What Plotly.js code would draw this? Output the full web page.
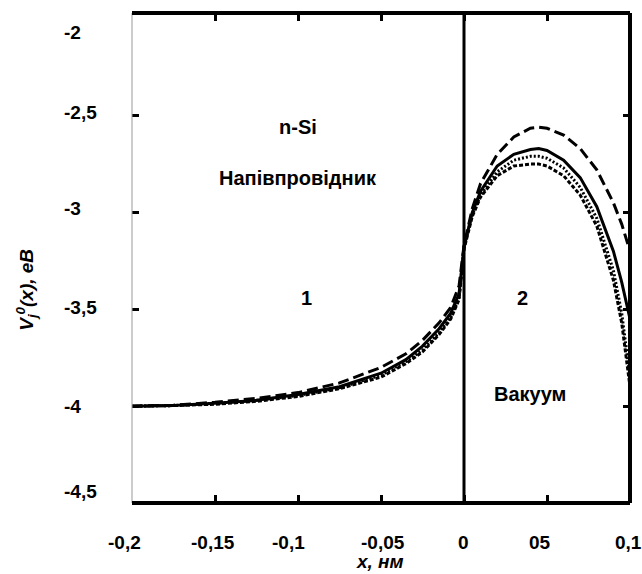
<!DOCTYPE html>
<html>
<head>
<meta charset="utf-8">
<script src="https://cdn.plot.ly/plotly-3.0.1.min.js"></script>
<style>html,body{margin:0;padding:0;background:#fff;}#chart{width:642px;height:574px;}</style>
</head>
<body>
<div id="chart"></div>
<script>
// ---- data ----
const xs = [-0.2, -0.175, -0.15, -0.125, -0.1, -0.075, -0.05, -0.035, -0.025, -0.015, -0.008, -0.003, 0, 0.005, 0.01, 0.02, 0.03, 0.04, 0.045, 0.05, 0.06, 0.07, 0.08, 0.09, 0.095, 0.1];
const curveLongDash = [-4, -3.995, -3.98, -3.96, -3.93, -3.88, -3.8, -3.73, -3.66, -3.57, -3.49, -3.38, -3.17, -2.98, -2.85, -2.7, -2.61, -2.565, -2.56, -2.565, -2.6, -2.67, -2.78, -2.95, -3.06, -3.2];
const curveSolid = [-4, -3.997, -3.985, -3.97, -3.94, -3.9, -3.83, -3.76, -3.69, -3.6, -3.52, -3.42, -3.18, -3.0, -2.89, -2.76, -2.7, -2.675, -2.67, -2.68, -2.73, -2.82, -2.97, -3.2, -3.36, -3.55];
const curveDotted = [-4, -3.997, -3.985, -3.97, -3.945, -3.905, -3.84, -3.77, -3.71, -3.62, -3.54, -3.44, -3.18, -3.01, -2.91, -2.79, -2.73, -2.71, -2.71, -2.72, -2.77, -2.87, -3.03, -3.3, -3.52, -3.85];
const curveShortDash = [-4, -3.997, -3.99, -3.975, -3.95, -3.91, -3.85, -3.78, -3.72, -3.63, -3.55, -3.45, -3.19, -3.02, -2.92, -2.81, -2.76, -2.75, -2.75, -2.76, -2.81, -2.91, -3.07, -3.35, -3.57, -3.9];

const xTickVals = [-0.2, -0.15, -0.1, -0.05, 0, 0.05, 0.1];
const xTickLabels = ["-0,2", "-0,15", "-0,1", "-0,05", "0", "05", "0,1"];
const yTickVals = [-2, -2.5, -3, -3.5, -4, -4.5];
const yTickLabels = ["-2", "-2,5", "-3", "-3,5", "-4", "-4,5"];

// label placement (layout, paper fractions / axis values)
const xLabelPaper = [-0.016, 0.162, 0.315, 0.504, 0.665, 0.819, 0.996];
const yLabelPos = [-2.073, -2.486, -2.977, -3.488, -4.0, -4.443];

const FONT = "Liberation Sans, Arial, sans-serif";

function tr(y, dash) {
  return {x: xs, y: y, type: 'scatter', mode: 'lines', line: {color: '#000', width: 3, dash: dash}, hoverinfo: 'skip', showlegend: false};
}
const traces = [
  tr(curveLongDash, '11px,5px'),
  tr(curveSolid, 'solid'),
  tr(curveDotted, '2px,2px'),
  tr(curveShortDash, '4px,2px')
];

const annotations = [];
xTickLabels.forEach((t, i) => annotations.push({
  text: '<b>' + t + '</b>', x: xLabelPaper[i], xref: 'paper', y: -0.0816, yref: 'paper',
  xanchor: 'center', yanchor: 'middle', showarrow: false, font: {family: FONT, size: 19, color: '#000'}
}));
yTickLabels.forEach((t, i) => annotations.push({
  text: '<b>' + t + '</b>', x: -0.1406, xref: 'paper', y: (yLabelPos[i] + 4.5) / 2.53, yref: 'paper',
  xanchor: 'left', yanchor: 'middle', showarrow: false, font: {family: FONT, size: 19, color: '#000'}
}));
const txt = (t, x, y) => ({text: '<b>' + t + '</b>', x: x, y: y, xref: 'x', yref: 'y', showarrow: false,
  xanchor: 'center', yanchor: 'middle', font: {family: FONT, size: 20, color: '#000'}});
annotations.push(txt('n-Si', -0.1, -2.56));
annotations.push(txt('Напівпровідник', -0.1, -2.82));
annotations.push(txt('1', -0.095, -3.44));
annotations.push(txt('2', 0.0355, -3.44));
annotations.push(txt('Вакуум', 0.040, -3.937));
annotations.push({text: '<b><i>x, нм</i></b>', x: 0.498, xref: 'paper', y: -0.12, yref: 'paper',
  xanchor: 'center', yanchor: 'middle', showarrow: false, font: {family: FONT, size: 19, color: '#000'}});
annotations.push({text: '<b><i>V<sub>j</sub><sup>0</sup>(x), eB</i></b>', x: -0.2112, xref: 'paper', y: -3.40, yref: 'y',
  xanchor: 'center', yanchor: 'middle', textangle: -90, showarrow: false, font: {family: FONT, size: 19, color: '#000'}});

const layout = {
  width: 642, height: 574,
  margin: {l: 132, r: 12, t: 13, b: 71},
  paper_bgcolor: '#fff', plot_bgcolor: '#fff',
  showlegend: false,
  xaxis: {range: [-0.2, 0.1], tickvals: xTickVals, ticks: 'inside', ticklen: 8, tickwidth: 3, tickcolor: '#000',
    mirror: 'ticks', showticklabels: false, showgrid: false, zeroline: false, showline: false, fixedrange: true},
  yaxis: {range: [-4.5, -1.97], tickvals: [-2.5, -3, -3.5, -4], ticks: 'inside', ticklen: 7, tickwidth: 3, tickcolor: '#000',
    mirror: 'ticks', showticklabels: false, showgrid: false, zeroline: false, showline: false, fixedrange: true},
  shapes: [
    {type: 'line', xref: 'paper', yref: 'paper', x0: 0, x1: 0, y0: 0, y1: 1, line: {color: '#999', width: 1}},
    {type: 'line', xref: 'paper', yref: 'paper', x0: 0, x1: 1, y0: 1, y1: 1, line: {color: '#000', width: 4}},
    {type: 'line', xref: 'paper', yref: 'paper', x0: 0, x1: 1, y0: 0, y1: 0, line: {color: '#000', width: 4}},
    {type: 'line', xref: 'paper', yref: 'paper', x0: 1, x1: 1, y0: 0, y1: 1, line: {color: '#000', width: 4}},
    {type: 'line', xref: 'x', yref: 'paper', x0: 0, x1: 0, y0: 0, y1: 1, line: {color: '#000', width: 3}}
  ],
  annotations: annotations
};

Plotly.newPlot('chart', traces, layout, {displayModeBar: false, staticPlot: true});
</script>
</body>
</html>
